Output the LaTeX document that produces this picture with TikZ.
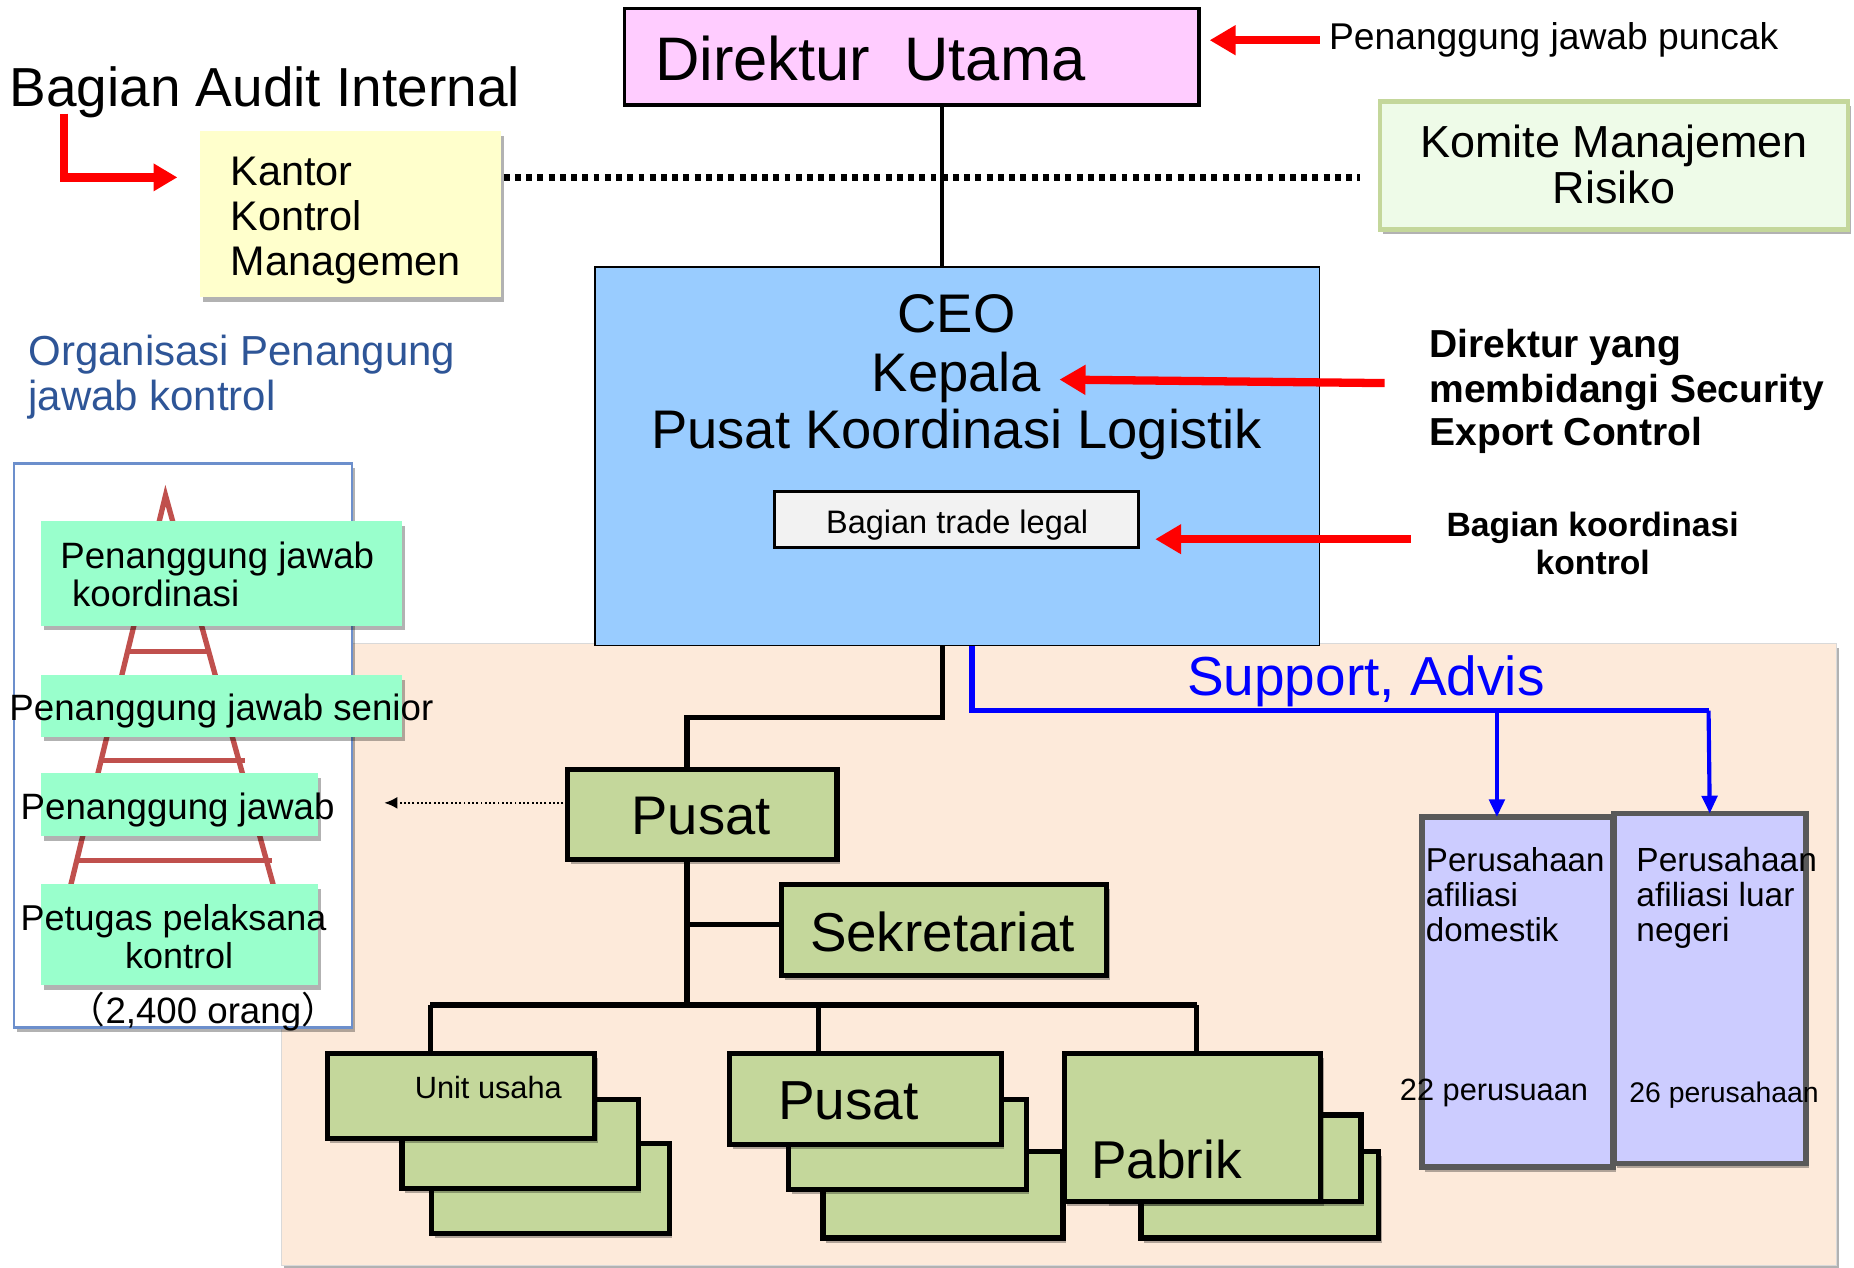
\documentclass[tikz,border=0pt]{standalone}
\usepackage{fontspec}
\setmainfont{Liberation Sans}
\newfontfamily\cjkfont{Noto Sans CJK JP}
\usetikzlibrary{arrows.meta,shadows,calc}
\definecolor{pinkc}{HTML}{FFCCFF}
\definecolor{yellowc}{HTML}{FFFFCC}
\definecolor{komfill}{HTML}{EEFBE8}
\definecolor{komdraw}{HTML}{C4D79B}
\definecolor{ceoblue}{HTML}{99CCFF}
\definecolor{tradec}{HTML}{F2F2F2}
\definecolor{peach}{HTML}{FDEADA}
\definecolor{mint}{HTML}{99FFCC}
\definecolor{olivec}{HTML}{C4D79B}
\definecolor{purplec}{HTML}{CCCCFF}
\definecolor{purpledraw}{HTML}{595959}
\definecolor{orgblue}{HTML}{2E5597}
\definecolor{ladder}{HTML}{C0504D}
\definecolor{pyrdraw}{HTML}{6C8FCC}
\definecolor{sblue}{HTML}{0000FF}
\definecolor{redc}{HTML}{FF0000}
\newcommand{\fsz}[1]{\fontsize{#1}{#1}\selectfont}
\begin{document}
\begin{tikzpicture}[x=1pt,y=-1pt,
  txt/.style={inner sep=0pt,outer sep=0pt},
  bx/.style={rectangle,inner sep=0pt,outer sep=0pt},
  shd/.style={drop shadow={shadow xshift=2.5pt,shadow yshift=-4pt,opacity=0.3,fill=black}},
  treeline/.style={line width=4.5pt,black},
  olivebox/.style={bx,fill=olivec,draw=black,line width=4.5pt,shd},
  greenbox/.style={bx,fill=mint,shd},
  purplebox/.style={bx,fill=purplec,draw=purpledraw,line width=5pt,shd},
  redarrow/.style={line width=7pt,redc,-{Triangle[length=22pt,width=24pt]}},
  bluearrow/.style={line width=3.5pt,sblue,-{Triangle[length=15pt,width=13pt]}},
]
% canvas
\fill[white] (0,0) rectangle (1568,1072);
\useasboundingbox (0,0) rectangle (1568,1072);

% peach background
\node[bx,fill=peach,draw=black!15,line width=1pt,shd,minimum width=1315pt,minimum height=526pt] (peachbg) at (895.5,807) {};

% pyramid panel
\node[bx,fill=white,draw=pyrdraw,line width=2pt,shd,minimum width=285.5pt,minimum height=477pt] (pyr) at (154.75,630.5) {};
\coordinate (apex) at (140,419);
\coordinate (legL) at (60,748);
\coordinate (legR) at (231,748);
\draw[ladder,line width=4.5pt] (legL) -- (apex) -- (legR);
\draw[ladder,line width=4.5pt] ($(apex)!0.401!(legL)$) -- ($(apex)!0.401!(legR)$);
\draw[ladder,line width=4.5pt] ($(apex)!0.681!(legL)$) -- ($(apex)!0.681!(legR)+(5,0)$);
\draw[ladder,line width=4.5pt] ($(apex)!0.939!(legL)$) -- ($(apex)!0.939!(legR)+(5,0)$);

\node[greenbox,minimum width=305pt,minimum height=88pt] (gA) at (187.5,485) {};
\node[greenbox,minimum width=305pt,minimum height=52pt] (gB) at (187.5,597) {};
\node[greenbox,minimum width=234pt,minimum height=53pt] (gC) at (152,680.5) {};
\node[greenbox,minimum width=234pt,minimum height=85pt] (gD) at (152,790.5) {};
\node[txt,anchor=base west,font=\fsz{31}] (gA1) at (51,481) {Penanggung jawab};
\node[txt,anchor=base west,font=\fsz{31}] (gA2) at (61,513) {koordinasi};
\node[txt,anchor=base west,font=\fsz{31}] (gB1) at (8,609) {Penanggung jawab senior};
\node[txt,anchor=base west,font=\fsz{31}] (gC1) at (17.5,693) {Penanggung jawab};
\node[txt,anchor=base west,font=\fsz{30.4}] (gD1) at (17.5,787) {Petugas pelaksana};
\node[txt,anchor=base,font=\fsz{30.4}] (gD2) at (151.5,819) {kontrol};
\node[txt,anchor=base,font=\fsz{31}] (orang) at (172,866) {{\cjkfont （}2,400 orang{\cjkfont ）}};

% dotted line between Kantor and Komite
\coordinate (dotL) at (426,150);
\coordinate (dotR) at (1150,150);
\draw[line width=5.5pt,dash pattern=on 5pt off 4.5pt] (dotL) -- (dotR);

% top boxes
\node[bx,fill=pinkc,draw=black,line width=3pt,minimum width=486pt,minimum height=82pt] (dir) at (771,48) {};
\node[bx,fill=yellowc,shd,minimum width=255pt,minimum height=140pt] (kantor) at (296.5,181) {};
\node[bx,fill=komfill,draw=komdraw,line width=4pt,shd,minimum width=396pt,minimum height=108pt] (komite) at (1365,140) {};

% connector Direktur -> CEO
\coordinate (jx) at (797,0);
\node[bx,fill=ceoblue,draw=black,line width=1.5pt,minimum width=613pt,minimum height=320pt] (ceo) at (809.5,386) {};
\draw[line width=3.5pt] (dir.south -| jx) -- (ceo.north -| jx);
\node[bx,fill=tradec,draw=black,line width=2.5pt,minimum width=308pt,minimum height=47pt] (trade) at (809,439.5) {};

% texts top
\node[txt,anchor=base west,font=\fsz{52}] (dirT) at (554,68) {Direktur\ \ Utama};
\node[txt,anchor=base west,font=\fsz{31.5}] (puncak) at (1124,42) {Penanggung jawab puncak};
\node[txt,anchor=base west,font=\fsz{46.5}] (audit) at (8,90) {Bagian Audit Internal};
\node[txt,anchor=base west,font=\fsz{35}] (k1) at (195,157) {Kantor};
\node[txt,anchor=base west,font=\fsz{35}] (k2) at (195,195) {Kontrol};
\node[txt,anchor=base west,font=\fsz{35}] (k3) at (195,233) {Managemen};
\node[txt,anchor=base,font=\fsz{38}] (km1) at (1365,133) {Komite Manajemen};
\node[txt,anchor=base,font=\fsz{38}] (km2) at (1365,172) {Risiko};
\node[txt,anchor=base west,font=\fsz{35.5},text=orgblue] (org1) at (24,309) {Organisasi Penangung};
\node[txt,anchor=base west,font=\fsz{35.5},text=orgblue] (org2) at (24,347) {jawab kontrol};
\node[txt,anchor=base,font=\fsz{46}] (ceo1) at (809,281) {CEO};
\node[txt,anchor=base,font=\fsz{46}] (ceo2) at (809,331) {Kepala};
\node[txt,anchor=base,font=\fsz{46}] (ceo3) at (809,379) {Pusat Koordinasi Logistik};
\node[txt,anchor=base,font=\fsz{27.5}] (tradeT) at (809.5,451) {Bagian trade legal};
\node[txt,anchor=base west,font=\bfseries\fsz{33}] (dy1) at (1209,302) {Direktur yang};
\node[txt,anchor=base west,font=\bfseries\fsz{33}] (dy2) at (1209,340) {membidangi Security};
\node[txt,anchor=base west,font=\bfseries\fsz{33}] (dy3) at (1209,377) {Export Control};
\node[txt,anchor=base,font=\bfseries\fsz{28.5}] (bk1) at (1347,454) {Bagian koordinasi};
\node[txt,anchor=base,font=\bfseries\fsz{28.5}] (bk2) at (1347,486) {kontrol};

% red arrows
\coordinate (ra1s) at (1116,34);
\coordinate (ra1e) at (1023,34);
\draw[redarrow] (ra1s) -- (ra1e);
\coordinate (ra2s) at (1171,324);
\coordinate (ra2e) at (896,321);
\draw[redarrow] (ra2s) -- (ra2e);
\coordinate (ra3s) at (1193,456);
\coordinate (ra3e) at (977,456);
\draw[redarrow] (ra3s) -- (ra3e);
\coordinate (elb) at (54,96);
\coordinate (elbE) at (150,150);
\draw[redarrow,-{Triangle[length=20pt,width=22pt]}] (elb) |- (elbE);

% tree
\node[olivebox,minimum width=228pt,minimum height=76pt] (pusat) at (594,689) {};
\node[olivebox,minimum width=275pt,minimum height=77pt] (sek) at (798.5,786.5) {};
\coordinate (tx) at (581,0);
\coordinate (hl) at (364,850);
\coordinate (hm) at (692,850);
\coordinate (hr) at (1012,850);
\draw[treeline] (ceo.south -| jx) -- ++(0,61) -| (pusat.north -| tx);
\draw[treeline] (pusat.south -| tx) -- (tx |- hl);
\draw[treeline] (tx |- 0,782) -- (sek.west |- 0,782);
\draw[treeline] (hl) -- (hr);

% stacks
\node[olivebox,minimum width=201pt,minimum height=76pt] (unitC) at (465.5,1005) {};
\node[olivebox,minimum width=200pt,minimum height=75pt] (unitB) at (440,967.5) {};
\node[olivebox,minimum width=226pt,minimum height=72pt] (unitA) at (390,927) {};
\node[olivebox,minimum width=203pt,minimum height=73pt] (pusC) at (797.5,1010.5) {};
\node[olivebox,minimum width=201pt,minimum height=76pt] (pusB) at (767.5,968) {};
\node[olivebox,minimum width=230pt,minimum height=77pt] (pusA) at (732,929.5) {};
\node[olivebox,minimum width=201pt,minimum height=73pt] (pabC) at (1065.5,1010.5) {};
\node[olivebox,minimum width=216pt,minimum height=73pt] (pabB) at (1043,979.5) {};
\node[olivebox,minimum width=217pt,minimum height=125pt] (pabA) at (1008.5,953.5) {};
\draw[treeline] (hl) -- (hl |- unitA.north);
\draw[treeline] (hm) -- (hm |- pusA.north);
\draw[treeline] (hr) -- (hr |- pabA.north);

\node[txt,anchor=base,font=\fsz{46}] (pusatT) at (593,706) {Pusat};
\node[txt,anchor=base,font=\fsz{46.3}] (sekT) at (797,805) {Sekretariat};
\node[txt,anchor=base,font=\fsz{26}] (unitT) at (413,929) {Unit usaha};
\node[txt,anchor=base,font=\fsz{46.5}] (pusAT) at (717.5,947) {Pusat};
\node[txt,anchor=base,font=\fsz{45}] (pabT) at (986.5,997) {Pabrik};

% dotted arrow
\coordinate (dotTip) at (325,679);
\draw[line width=1.6pt,dotted,-{Latex[length=11pt,width=10pt]}] ([yshift=10pt]pusat.west) -- (dotTip);

% support lines
\coordinate (bx) at (822,601);
\coordinate (bxr) at (1445,601);
\coordinate (d1) at (1266,601);
\node[purplebox,minimum width=162pt,minimum height=296pt] (luar) at (1446,836) {};
\node[purplebox,minimum width=161pt,minimum height=296pt] (dom) at (1283.5,839) {};
\draw[line width=4.5pt,sblue] (ceo.south -| bx) -- (bx) -- (bxr);
\draw[bluearrow] (d1) -- (dom.north -| d1);
\draw[bluearrow] (bxr) -- (luar.north);
\node[txt,anchor=base west,font=\fsz{46.5},text=sblue] (supp) at (1004,588) {Support, Advis};

\node[txt,anchor=base west,font=\fsz{28}] (dm1) at (1206,737) {Perusahaan};
\node[txt,anchor=base west,font=\fsz{28}] (dm2) at (1206,767) {afiliasi};
\node[txt,anchor=base west,font=\fsz{28}] (dm3) at (1206,796) {domestik};
\node[txt,anchor=base west,font=\fsz{26}] (dm4) at (1184,931) {22 perusuaan};
\node[txt,anchor=base west,font=\fsz{28.3}] (lu1) at (1384,737) {Perusahaan};
\node[txt,anchor=base west,font=\fsz{28.3}] (lu2) at (1384,767) {afiliasi luar};
\node[txt,anchor=base west,font=\fsz{28.3}] (lu3) at (1384,796) {negeri};
\node[txt,anchor=base west,font=\fsz{24}] (lu4) at (1378,932) {26 perusahaan};
\end{tikzpicture}
\end{document}
